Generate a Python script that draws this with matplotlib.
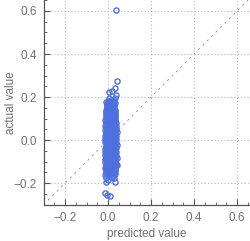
import matplotlib
matplotlib.use("Agg")
import matplotlib.pyplot as plt
from matplotlib.ticker import MultipleLocator

plt.rcParams["font.family"] = ["Liberation Sans", "DejaVu Sans"]

# predicted vs actual values (one line per band of actual value)
predicted = [
    -0.008, 0.012, 0.028,
    -0.012, 0.004, 0.022, 0.033,
    -0.010, 0.002, 0.015, 0.030,
    -0.012, -0.002, 0.010, 0.020, 0.031,
    -0.011, 0.000, 0.012, 0.024, 0.036,
    -0.013, -0.003, 0.007, 0.018, 0.028,
    -0.012, 0.001, 0.011, 0.021, 0.033, 0.040,
    -0.014, -0.004, 0.006, 0.016, 0.026, 0.036,
    -0.012, -0.001, 0.009, 0.019, 0.029, 0.038,
    -0.013, -0.003, 0.007, 0.017, 0.027, 0.037,
    -0.011, -0.001, 0.010, 0.020, 0.030, 0.041,
    -0.014, -0.004, 0.006, 0.016, 0.026, 0.036,
    -0.012, -0.002, 0.008, 0.018, 0.028, 0.039,
    -0.013, -0.003, 0.007, 0.017, 0.027, 0.037,
    -0.011, 0.000, 0.010, 0.020, 0.030, 0.040,
    -0.013, -0.003, 0.007, 0.017, 0.027, 0.036,
    -0.012, -0.001, 0.009, 0.019, 0.029, 0.039,
    -0.011, -0.002, 0.008, 0.018, 0.028, 0.035,
    -0.012, 0.000, 0.010, 0.020, 0.031,
    -0.010, 0.001, 0.011, 0.022, 0.033,
    -0.011, -0.001, 0.009, 0.019, 0.030,
    -0.009, 0.002, 0.012, 0.024, 0.034,
    -0.007, 0.004, 0.015, 0.027,
    -0.004, 0.008, 0.020, 0.032,
    -0.002, 0.012, 0.026,
    0.004, 0.030,
    # second, offset layer filling the dense core
    -0.007, 0.004, 0.014, 0.024, 0.033,
    -0.008, 0.003, 0.013, 0.023, 0.032,
    -0.006, 0.005, 0.015, 0.025, 0.034,
    -0.008, 0.002, 0.012, 0.022, 0.031,
    -0.007, 0.004, 0.014, 0.024, 0.033,
    -0.009, 0.003, 0.013, 0.023, 0.032,
    -0.006, 0.005, 0.015, 0.025, 0.034,
    -0.008, 0.002, 0.012, 0.022, 0.031,
    -0.007, 0.004, 0.014, 0.024, 0.033,
    -0.008, 0.003, 0.013, 0.023, 0.032,
    -0.006, 0.005, 0.015, 0.025,
    -0.005, 0.006, 0.016, 0.026,
    # third layer, densest part of the core
    -0.010, 0.000, 0.010, 0.020, 0.030,
    -0.009, 0.001, 0.011, 0.021, 0.029,
    -0.010, 0.000, 0.010, 0.020, 0.030,
    -0.011, -0.001, 0.009, 0.019, 0.031,
    -0.010, 0.000, 0.010, 0.020, 0.030,
    -0.009, 0.001, 0.011, 0.021, 0.029,
    -0.010, 0.000, 0.010, 0.020, 0.030,
    -0.011, -0.001, 0.009, 0.019, 0.031,
    -0.010, 0.000, 0.010, 0.020, 0.030,
    -0.009, 0.001, 0.011, 0.021, 0.029,
    -0.010, 0.000, 0.010, 0.020, 0.030,
    -0.008, 0.002, 0.012, 0.022,
    -0.009, 0.001, 0.011, 0.021,
    -0.007, 0.003, 0.013, 0.023,
    # outliers
    0.035, 0.042, 0.033, 0.005, 0.037, 0.020, 0.036,
    -0.009, -0.001, 0.034, -0.014, -0.003, 0.009, 0.040, 0.030,
]
actual = [
    -0.176, -0.172, -0.178,
    -0.162, -0.158, -0.165, -0.157,
    -0.146, -0.143, -0.148, -0.141,
    -0.131, -0.128, -0.133, -0.127, -0.130,
    -0.116, -0.113, -0.118, -0.112, -0.114,
    -0.101, -0.098, -0.103, -0.097, -0.100,
    -0.086, -0.083, -0.088, -0.082, -0.085, -0.084,
    -0.071, -0.068, -0.073, -0.067, -0.070, -0.069,
    -0.056, -0.053, -0.058, -0.052, -0.055, -0.054,
    -0.041, -0.038, -0.043, -0.037, -0.040, -0.039,
    -0.026, -0.023, -0.028, -0.022, -0.025, -0.024,
    -0.011, -0.008, -0.013, -0.007, -0.010, -0.009,
    0.004, 0.007, 0.002, 0.008, 0.005, 0.006,
    0.019, 0.022, 0.017, 0.023, 0.020, 0.021,
    0.034, 0.037, 0.032, 0.038, 0.035, 0.036,
    0.049, 0.052, 0.047, 0.053, 0.050, 0.051,
    0.064, 0.067, 0.062, 0.068, 0.065, 0.066,
    0.079, 0.082, 0.077, 0.083, 0.080, 0.081,
    0.094, 0.097, 0.092, 0.098, 0.095,
    0.109, 0.112, 0.107, 0.113, 0.110,
    0.124, 0.127, 0.122, 0.128, 0.125,
    0.139, 0.142, 0.137, 0.143, 0.140,
    0.154, 0.157, 0.152, 0.158,
    0.169, 0.172, 0.167, 0.173,
    0.184, 0.187, 0.182,
    0.194, 0.196,
    -0.108, -0.106, -0.110, -0.105, -0.107,
    -0.093, -0.091, -0.095, -0.090, -0.092,
    -0.078, -0.076, -0.080, -0.075, -0.077,
    -0.048, -0.046, -0.050, -0.045, -0.047,
    -0.018, -0.016, -0.020, -0.015, -0.017,
    0.012, 0.014, 0.010, 0.015, 0.013,
    0.042, 0.044, 0.040, 0.045, 0.043,
    0.072, 0.074, 0.070, 0.075, 0.073,
    0.102, 0.104, 0.100, 0.105, 0.103,
    0.132, 0.134, 0.130, 0.135, 0.133,
    0.147, 0.149, 0.145, 0.150,
    0.162, 0.164, 0.160, 0.165,
    -0.123, -0.121, -0.124, -0.120, -0.122,
    -0.063, -0.061, -0.064, -0.060, -0.062,
    -0.033, -0.031, -0.034, -0.030, -0.032,
    -0.003, -0.001, -0.004, 0.000, -0.002,
    0.027, 0.029, 0.026, 0.030, 0.028,
    0.057, 0.059, 0.056, 0.060, 0.058,
    0.087, 0.089, 0.086, 0.090, 0.088,
    0.117, 0.119, 0.116, 0.120, 0.118,
    -0.137, -0.135, -0.138, -0.134, -0.136,
    0.001, 0.003, -0.006, 0.009, 0.011,
    -0.089, -0.091, -0.094, -0.088, -0.096,
    0.176, 0.178, 0.175, 0.179,
    -0.152, -0.154, -0.151, -0.155,
    0.153, 0.155, 0.152, 0.156,
    0.605, 0.276, 0.242, 0.222, 0.210, 0.226, -0.112,
    -0.194, -0.187, -0.194, -0.246, -0.253, -0.260, -0.118, -0.150,
]

x_ticks = [-0.2, 0.0, 0.2, 0.4, 0.6]
y_ticks = [-0.2, 0.0, 0.2, 0.4, 0.6]
tick_labels = ["\u22120.2", "0.0", "0.2", "0.4", "0.6"]

blue = "#4e6fde"
grey = "#707070"

fig = plt.figure(figsize=(2.5, 2.41), dpi=100)
ax = fig.add_axes([0.176, 0.149, 0.824, 0.851])

ax.plot(predicted, actual, linestyle="none", marker="o", markersize=3.7,
        markerfacecolor="none", markeredgecolor=blue, markeredgewidth=1.0,
        zorder=3)

# reference line y = x
ax.plot([-0.3, 0.66], [-0.3, 0.66], color="#888888", lw=0.6,
        linestyle=(0, (2.5, 5)), zorder=2)

ax.set_xlim(-0.298, 0.66)
ax.set_ylim(-0.302, 0.651)
ax.set_xticks(x_ticks)
ax.set_yticks(y_ticks)
ax.set_xticklabels(tick_labels)
ax.set_yticklabels(tick_labels)
ax.xaxis.set_minor_locator(MultipleLocator(0.05))
ax.yaxis.set_minor_locator(MultipleLocator(0.05))

ax.grid(True, which="major", color="#b5b5b5", linestyle=(0, (1, 2)), lw=0.8, zorder=1)

for side in ["top", "right"]:
    ax.spines[side].set_visible(False)
for side in ["left", "bottom"]:
    ax.spines[side].set_color("#555555")
    ax.spines[side].set_linewidth(0.9)

ax.tick_params(which="major", direction="in", length=4, width=0.8,
               color="#555555", labelcolor=grey, labelsize=8.5, pad=5)
ax.tick_params(which="minor", direction="in", length=2.2, width=0.6,
               color="#555555")

ax.set_xlabel("predicted value", color=grey, fontsize=8.5)
ax.set_ylabel("actual value", color=grey, fontsize=8.5)
ax.xaxis.set_label_coords(0.5, -0.14)
ax.yaxis.set_label_coords(-0.16, 0.5)
ax.xaxis.label.set_va("center")
ax.yaxis.label.set_va("center")

fig.savefig("out.png", dpi=100)
